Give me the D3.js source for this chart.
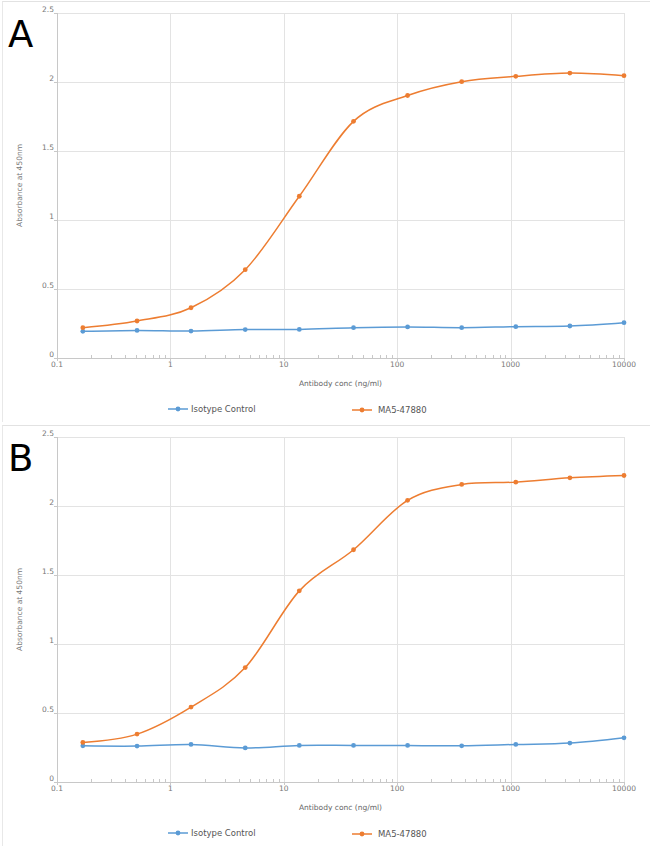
<!DOCTYPE html>
<html>
<head>
<meta charset="utf-8">
<script src="https://cdn.jsdelivr.net/npm/d3@7"></script>
<style>
html,body{margin:0;padding:0;background:#fff;}
svg{display:block;}
text{font-family:"DejaVu Sans","Noto Sans",sans-serif;}
</style>
</head>
<body>
<svg id="chart" width="650" height="864"></svg>
<script>
// Data
const concentrations = [0.169, 0.508, 1.52, 4.57, 13.7, 41.2, 123.5, 370.4, 1111, 3333, 10000];
const panelLabels = ["A", "B"];
const seriesNames = ["Isotype Control", "MA5-47880"];
const isotypeA = [0.193, 0.200, 0.195, 0.206, 0.207, 0.220, 0.225, 0.220, 0.227, 0.232, 0.256];
const ma5A     = [0.220, 0.268, 0.364, 0.640, 1.172, 1.715, 1.902, 2.002, 2.041, 2.065, 2.046];
const isotypeB = [0.262, 0.260, 0.272, 0.247, 0.265, 0.265, 0.265, 0.262, 0.272, 0.282, 0.320];
const ma5B     = [0.287, 0.347, 0.543, 0.829, 1.385, 1.683, 2.041, 2.156, 2.173, 2.204, 2.221];
const yTicks = [0, 0.5, 1, 1.5, 2, 2.5];
const yTickLabels = ["0", "0.5", "1", "1.5", "2", "2.5"];
const xTicks = [0.1, 1, 10, 100, 1000, 10000];
const xTickLabels = ["0.1", "1", "10", "100", "1000", "10000"];
const xTitle = "Antibody conc (ng/ml)";
const yTitle = "Absorbance at 450nm";

const colors = ["#5b9bd5", "#ed7d31"];
const svg = d3.select("#chart");

function drawPanel(offsetY, label, seriesData) {
  const g = svg.append("g").attr("transform", `translate(0,${offsetY})`);
  const left = 57, right = 624, top = 13, bottom = 358;
  const x = d3.scaleLog().domain([0.1, 10000]).range([left, right]);
  const y = d3.scaleLinear().domain([0, 2.5]).range([bottom, top]);

  // panel frame
  g.append("line").attr("x1", 2).attr("x2", 650).attr("y1", 1.5).attr("y2", 1.5)
    .attr("stroke", "#e2e2e2").attr("stroke-width", 1);
  g.append("line").attr("x1", 2.5).attr("x2", 2.5).attr("y1", 1.5).attr("y2", 422)
    .attr("stroke", "#e8e8e8").attr("stroke-width", 1);

  // gridlines
  g.append("g").selectAll("line.hg").data(yTicks.slice(1)).join("line")
    .attr("x1", left).attr("x2", right)
    .attr("y1", d => Math.round(y(d)) + 0.5).attr("y2", d => Math.round(y(d)) + 0.5)
    .attr("stroke", "#e3e3e3").attr("stroke-width", 1);
  g.append("g").selectAll("line.vg").data(xTicks.slice(1)).join("line")
    .attr("x1", d => Math.round(x(d)) + 0.5).attr("x2", d => Math.round(x(d)) + 0.5)
    .attr("y1", top).attr("y2", bottom)
    .attr("stroke", "#e3e3e3").attr("stroke-width", 1);

  // axes lines
  g.append("line").attr("x1", left + 0.5).attr("x2", left + 0.5).attr("y1", top).attr("y2", bottom)
    .attr("stroke", "#c8c8c8").attr("stroke-width", 1);
  g.append("line").attr("x1", left).attr("x2", right).attr("y1", bottom + 0.5).attr("y2", bottom + 0.5)
    .attr("stroke", "#c8c8c8").attr("stroke-width", 1);

  // y ticks short marks
  g.append("g").selectAll("line").data(yTicks).join("line")
    .attr("x1", left - 3).attr("x2", left)
    .attr("y1", d => Math.round(y(d)) + 0.5).attr("y2", d => Math.round(y(d)) + 0.5)
    .attr("stroke", "#c8c8c8");

  // x minor ticks
  const minor = [];
  for (let e = -1; e < 4; e++) for (let m = 2; m <= 9; m++) minor.push(m * Math.pow(10, e));
  g.append("g").selectAll("line").data(minor).join("line")
    .attr("x1", d => Math.round(x(d)) + 0.5).attr("x2", d => Math.round(x(d)) + 0.5)
    .attr("y1", bottom - 3).attr("y2", bottom)
    .attr("stroke", "#c8c8c8");
  g.append("g").selectAll("line").data(xTicks).join("line")
    .attr("x1", d => Math.round(x(d)) + 0.5).attr("x2", d => Math.round(x(d)) + 0.5)
    .attr("y1", bottom).attr("y2", bottom + 3)
    .attr("stroke", "#c8c8c8");

  // tick labels
  g.append("g").selectAll("text").data(yTicks).join("text")
    .attr("x", left - 3).attr("y", d => y(d) - 1)
    .attr("text-anchor", "end").attr("font-size", "7.5px").attr("fill", "#777")
    .text((d, i) => yTickLabels[i]);
  g.append("g").selectAll("text").data(xTicks).join("text")
    .attr("x", d => x(d)).attr("y", bottom + 9)
    .attr("text-anchor", "middle").attr("font-size", "7.5px").attr("fill", "#777")
    .text((d, i) => xTickLabels[i]);

  // axis titles
  g.append("text").attr("x", (left + right) / 2).attr("y", bottom + 28)
    .attr("text-anchor", "middle").attr("font-size", "7.5px").attr("fill", "#666").text(xTitle);
  g.append("text").attr("transform", `translate(22,${(top + bottom) / 2}) rotate(-90)`)
    .attr("text-anchor", "middle").attr("font-size", "7.5px").attr("fill", "#777").text(yTitle);

  // panel letter
  g.append("text").attr("x", 8).attr("y", 47).attr("font-size", "37px")
    .attr("font-family", "Liberation Sans, Arial, sans-serif").attr("fill", "#000").text(label);

  // series
  const line = d3.line().x(d => x(d[0])).y(d => y(d[1])).curve(d3.curveCatmullRom.alpha(0));
  seriesData.forEach((vals, si) => {
    const pts = concentrations.map((c, i) => [c, vals[i]]);
    g.append("path").datum(pts).attr("d", line).attr("fill", "none")
      .attr("stroke", colors[si]).attr("stroke-width", 1.5);
    g.append("g").selectAll("circle").data(pts).join("circle")
      .attr("cx", d => x(d[0])).attr("cy", d => y(d[1])).attr("r", 2.4)
      .attr("fill", colors[si]);
  });

  // legend
  const legX = [168, 352];
  const legTextX = [191, 378];
  seriesNames.forEach((name, si) => {
    const ly = 409 + si * 1;
    g.append("line").attr("x1", legX[si]).attr("x2", legX[si] + 20).attr("y1", ly).attr("y2", ly)
      .attr("stroke", colors[si]).attr("stroke-width", 1.5);
    g.append("circle").attr("cx", legX[si] + 10).attr("cy", ly).attr("r", 2.4).attr("fill", colors[si]);
    g.append("text").attr("x", legTextX[si]).attr("y", ly + 3).attr("font-size", "8.5px")
      .attr("fill", "#555").text(name);
  });
}

drawPanel(0, panelLabels[0], [isotypeA, ma5A]);
drawPanel(424, panelLabels[1], [isotypeB, ma5B]);
</script>
</body>
</html>
